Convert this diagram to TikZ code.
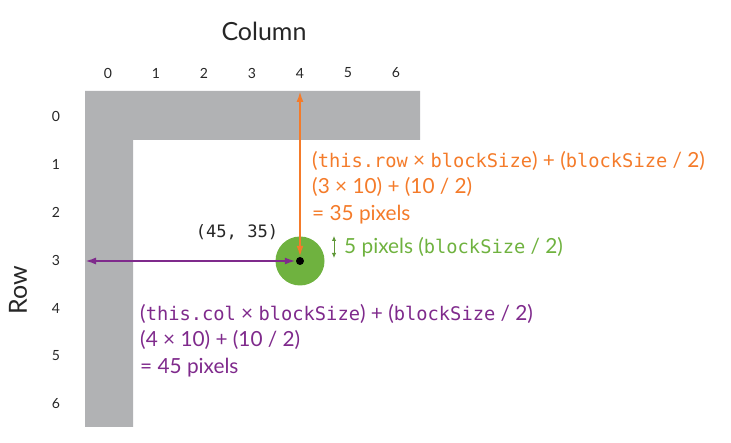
\documentclass[tikz,border=0pt]{standalone}
\usepackage{fontspec}
\setmainfont{Lato}
\newfontfamily\codefont{DejaVu Sans Mono}[Scale=0.9]
\usetikzlibrary{arrows.meta}
\usetikzlibrary{positioning}

\definecolor{gridgray}{HTML}{B1B2B4}
\definecolor{roworange}{HTML}{F47B2A}
\definecolor{colpurple}{HTML}{7F2A8C}
\definecolor{ballgreen}{HTML}{6FB23F}

\newcommand{\cd}[1]{{\codefont #1}}

\tikzset{
  axislabel/.style={font=\fontsize{25}{30}\selectfont, text=black!85},
  idxlabel/.style={font=\fontsize{14}{16}\selectfont, text=black!85},
  formula/.style={font=\fontsize{20.8}{26.5}\selectfont, align=left, inner sep=0pt, anchor=north west},
}

\begin{document}
\begin{tikzpicture}[x=1pt, y=-1pt, >={Latex[length=11pt,width=7pt]}]
  \useasboundingbox (0,0) rectangle (731,443);

  % the wall
  \fill[gridgray] (85,91) -- (420,91) -- (420,140) -- (133,140) -- (133,427) -- (85,427) -- cycle;

  % axes
  \node (colname) [axislabel] at (264,31) {Column};
  \node (rowname) [axislabel, rotate=90] at (18,290) {Row};
  \foreach \i in {0,...,6} {
    \node (c\i) [idxlabel] at (108+48*\i,73) {\i};
    \node (r\i) [idxlabel] at (56,116+48*\i) {\i};
  }

  % the ball
  \node (ball) [circle, fill=ballgreen, minimum size=49pt, inner sep=0pt] at (300,261) {};
  \node (ctr) [circle, fill=black, minimum size=8pt, inner sep=0pt] at (300,261) {};
  \coordinate (top) at (300,91);
  \coordinate (left) at (85,261);
  \coordinate (radtop) at (334,236);
  \coordinate (radbot) at (334,258);

  \draw[roworange, line width=2pt, <->] (top) -- (ctr);
  \draw[colpurple, line width=2pt, <->] (left) -- (ctr);
  \draw[ballgreen!85!black, line width=0.9pt, {Latex[length=5pt,width=4.5pt]}-{Latex[length=5pt,width=4.5pt]}] (radtop) -- (radbot);

  \node (pos) [font=\fontsize{19}{22}\selectfont\codefont, text=black!85] at (237,232) {(45, 35)};

  \node (rowcalc) [formula, text=roworange] at (312,151)
    {(\cd{this.row} × \cd{blockSize}) + (\cd{blockSize} / 2)\\
     (3 × 10) + (10 / 2)\\
     = 35 pixels};
  \node (radcalc) [formula, text=ballgreen, anchor=west] at (344,247)
    {5 pixels (\cd{blockSize} / 2)};
  \node (colcalc) [formula, text=colpurple] at (140,304)
    {(\cd{this.col} × \cd{blockSize}) + (\cd{blockSize} / 2)\\
     (4 × 10) + (10 / 2)\\
     = 45 pixels};

\end{tikzpicture}
\end{document}
